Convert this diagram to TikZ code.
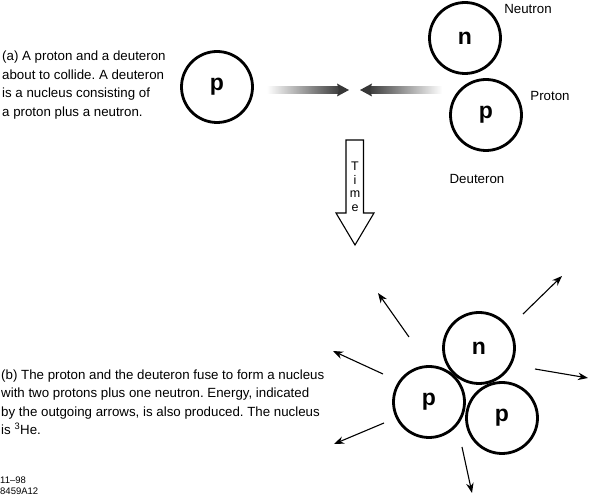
\documentclass[tikz,border=0pt]{standalone}
\usepackage{fontspec}
\setmainfont{Liberation Sans}
\frenchspacing
\definecolor{headgray}{RGB}{55,55,55}
\usetikzlibrary{arrows.meta,positioning}

\tikzset{
  particle/.style={circle,draw,line width=2.8pt,minimum size=71pt,inner sep=0pt,
                   font=\fontsize{23}{23}\selectfont\bfseries},
  caption/.style={anchor=west,align=left,inner sep=0pt,font=\fontsize{13.3}{18.5}\selectfont},
  tag/.style={inner sep=0pt,font=\fontsize{13.3}{16}\selectfont},
  shaft/.style={inner sep=0pt,minimum width=75pt,minimum height=7pt,left color=white,right color=headgray},
  ray/.style={line width=1.1pt,-{Stealth[length=10pt,width=7.5pt]}},
}

\begin{document}
\begin{tikzpicture}[x=1pt,y=-1pt]
    \useasboundingbox (0,0) rectangle (590,502);

    % (a) before the collision
    \node[caption] (textA) at (2,85)
      {(a) A proton and a deuteron\\about to collide. A deuteron\\is a nucleus consisting of\\a proton plus a neutron.};
    \node[particle] (p1) at (217,87) {p};
    \node[particle] (n1) at (465,38) {n};
    \node[particle] (p2) at (486,115) {p};
    \node[tag] (neutronlabel) at (528,9) {Neutron};
    \node[tag] (protonlabel) at (550,96) {Proton};
    \node[tag] (deuteronlabel) at (477,179) {Deuteron};

    % incoming arrows
    \node[shaft,anchor=east] (leftshaft) at (342,90) {};
    \fill[headgray] ([xshift=7pt]leftshaft.east) -- ([xshift=-5pt,yshift=-6.5pt]leftshaft.east)
      -- ([xshift=-3pt]leftshaft.east) -- ([xshift=-5pt,yshift=6.5pt]leftshaft.east) -- cycle;
    \node[shaft,anchor=west,left color=headgray,right color=white] (rightshaft) at (367,90) {};
    \fill[headgray] ([xshift=-7pt]rightshaft.west) -- ([xshift=5pt,yshift=-6.5pt]rightshaft.west)
      -- ([xshift=3pt]rightshaft.west) -- ([xshift=5pt,yshift=6.5pt]rightshaft.west) -- cycle;

    % time arrow
    \draw[line width=1.1pt,line join=miter] (346,140) -- (363.5,140) -- (363.5,213) -- (374,213)
      -- (355,245) -- (336,213) -- (346,213) -- cycle;
    \node[align=center,inner sep=0pt,font=\fontsize{12.5}{13.5}\selectfont] (time) at (355,187) {T\\i\\m\\e};

    % (b) after the fusion
    \node[caption] (textB) at (1,402)
      {(b) The proton and the deuteron fuse to form a nucleus\\with two protons plus one neutron. Energy, indicated\\by the outgoing arrows, is also produced. The nucleus\\is \textsuperscript{3}He.};
    \node[particle] (n2) at (479,348) {n};
    \node[particle] (p3) at (429,402) {p};
    \node[particle] (p4) at (502,418) {p};

    % outgoing energy
    \foreach \i/\fx/\fy/\tx/\ty in {1/409/337/378/293, 2/383/374/333/351, 3/384/423/334/444,
                                    4/462/447/472/493, 5/535/369/588/378, 6/523/314/562/276}{
      \coordinate (in\i) at (\fx,\fy);
      \coordinate (out\i) at (\tx,\ty);
      \draw[ray] (in\i) -- (out\i);
    }

    \node[anchor=north west,align=left,inner sep=0pt,font=\fontsize{9.5}{11}\selectfont] (stamp) at (0,477)
      {11--98\\8459A12};
\end{tikzpicture}
\end{document}
